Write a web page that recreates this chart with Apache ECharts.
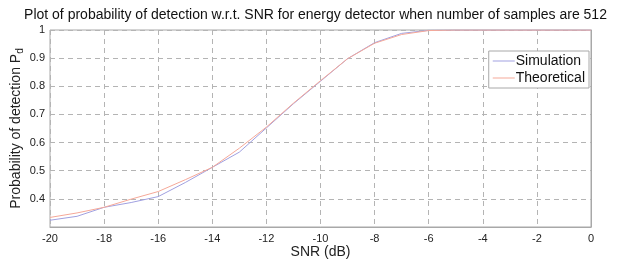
<!DOCTYPE html>
<html>
<head>
<meta charset="utf-8">
<script src="https://cdn.jsdelivr.net/npm/echarts@6/dist/echarts.min.js"></script>
<style>
html,body{margin:0;padding:0;background:#fff;}
#main{width:631px;height:259px;}
</style>
</head>
<body>
<div id="main"></div>
<script>
// SNR in dB
var snr = [-20, -19, -18, -17, -16, -15, -14, -13, -12, -11, -10, -9, -8, -7, -6, -5, -4, -3, -2, -1, 0];
// probability of detection
var simulation = [0.324, 0.338, 0.370, 0.387, 0.408, 0.458, 0.512, 0.566, 0.652, 0.738, 0.818, 0.898, 0.955, 0.988, 0.999, 1, 1, 1, 1, 1, 1];
var theoretical = [0.334, 0.350, 0.370, 0.399, 0.426, 0.468, 0.512, 0.580, 0.655, 0.740, 0.820, 0.898, 0.953, 0.984, 0.998, 1, 1, 1, 1, 1, 1];
var xTicks = { min: -20, max: 0, step: 2 };
var yTicks = { min: 0.3, max: 1, step: 0.1 };

function pairs(xs, ys) {
    var out = [];
    for (var i = 0; i < xs.length; i++) out.push([xs[i], ys[i]]);
    return out;
}

var font = 'Liberation Sans, Arial, Helvetica, sans-serif';
var gridLine = { show: true, lineStyle: { color: '#b4b4b4', type: [5, 4], width: 1 } };

var myChart = echarts.init(document.getElementById('main'));
myChart.setOption({
    animation: false,
    backgroundColor: '#fff',
    textStyle: { fontFamily: font },
    title: {
        text: 'Plot of probability of detection w.r.t. SNR for energy detector when number of samples are 512',
        left: 'center',
        top: 3,
        textStyle: { fontFamily: font, fontSize: 14, fontWeight: 'normal', color: '#111' }
    },
    grid: {
        left: 50, right: 40, top: 30, bottom: 32,
        outerBoundsMode: 'none', containLabel: false,
        show: true, borderColor: '#a8a8a8', borderWidth: 1
    },
    legend: {
        orient: 'vertical',
        right: 42,
        top: 51,
        padding: [3, 4, 3, 4],
        itemGap: 3,
        itemWidth: 22,
        itemHeight: 1,
        icon: 'rect',
        backgroundColor: '#fff',
        borderColor: '#a8a8a8',
        borderWidth: 1,
        textStyle: { fontFamily: font, fontSize: 14, color: '#111', padding: [0, 0, 0, -4] },
        data: ['Simulation', 'Theoretical']
    },
    xAxis: {
        type: 'value',
        min: xTicks.min,
        max: xTicks.max,
        interval: xTicks.step,
        name: 'SNR (dB)',
        nameLocation: 'middle',
        nameMoveOverlap: false,
        nameGap: 18,
        nameTextStyle: { fontFamily: font, fontSize: 14, color: '#222' },
        axisLine: { show: true, lineStyle: { color: '#a8a8a8' } },
        axisTick: { show: false },
        axisLabel: { fontSize: 11, color: '#222', margin: 6 },
        splitLine: gridLine
    },
    yAxis: {
        type: 'value',
        min: yTicks.min,
        max: yTicks.max,
        interval: yTicks.step,
        name: '{a|Probability of detection P}{b|d}',
        nameLocation: 'middle',
        nameMoveOverlap: false,
        nameGap: 25,
        nameTextStyle: {
            rich: {
                a: { fontFamily: font, fontSize: 14, color: '#222' },
                b: { fontFamily: font, fontSize: 10, color: '#222', padding: [8, 0, 0, 0] }
            }
        },
        axisLine: { show: true, lineStyle: { color: '#a8a8a8' } },
        axisTick: { show: false },
        axisLabel: {
            fontSize: 11, color: '#222', margin: 5,
            formatter: function (v) { return v < 0.35 ? '' : String(+v.toFixed(1)); }
        },
        splitLine: gridLine
    },
    series: [
        {
            name: 'Simulation',
            type: 'line',
            symbol: 'none',
            color: '#a0a0e0',
            lineStyle: { width: 1, color: '#a0a0e0' },
            data: pairs(snr, simulation)
        },
        {
            name: 'Theoretical',
            type: 'line',
            symbol: 'none',
            color: '#f5a898',
            lineStyle: { width: 1, color: '#f5a898' },
            data: pairs(snr, theoretical)
        }
    ]
});
</script>
</body>
</html>
